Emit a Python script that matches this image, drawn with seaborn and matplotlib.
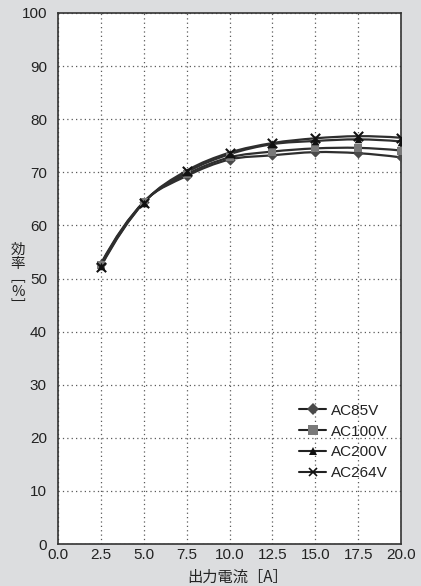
import numpy as np
import pandas as pd
import matplotlib
matplotlib.use("Agg")
import matplotlib.pyplot as plt
from matplotlib.path import Path
from matplotlib.patches import PathPatch
from matplotlib.lines import Line2D
import seaborn as sns

current = [2.5, 5.0, 7.5, 10.0, 12.5, 15.0, 17.5, 20.0]
ac85 = [52.8, 64.4, 69.3, 72.4, 73.2, 73.8, 73.6, 72.8]
ac100 = [52.6, 64.4, 69.6, 72.8, 73.9, 74.5, 74.6, 74.1]
ac200 = [52.4, 64.3, 70.0, 73.4, 75.3, 75.9, 76.2, 75.8]
ac264 = [52.2, 64.3, 70.3, 73.7, 75.5, 76.4, 76.8, 76.5]
series_names = ["AC85V", "AC100V", "AC200V", "AC264V"]
x_ticks = [0.0, 2.5, 5.0, 7.5, 10.0, 12.5, 15.0, 17.5, 20.0]
y_ticks = list(range(0, 101, 10))

markers = {"AC85V": "D", "AC100V": "s", "AC200V": "^", "AC264V": "x"}
mcolors = {"AC85V": "#4a4a4a", "AC100V": "#7a7a7a", "AC200V": "#111111", "AC264V": "#111111"}
msizes = {"AC85V": 28, "AC100V": 40, "AC200V": 30, "AC264V": 45}
line_color = "#2e2e2e"

df = pd.DataFrame({
    "current": current * 4,
    "eff": ac85 + ac100 + ac200 + ac264,
    "series": sum([[n] * len(current) for n in series_names], []),
})

sns.set_theme(style="white")
plt.rcParams["font.family"] = ["Liberation Sans", "Noto Sans CJK JP", "DejaVu Sans"]

fig = plt.figure(figsize=(4.21, 5.86), dpi=100)
fig.patch.set_facecolor("#dcdddf")
ax = fig.add_axes([58 / 421, 42 / 586, 343 / 421, 531 / 586])
ax.set_facecolor("white")


def smooth_path(xs, ys):
    # Bezier smoothing (Excel-like smoothed line); phantom end points by quadratic extrapolation
    pts = np.column_stack([xs, ys]).astype(float)
    n = len(pts)
    start = 3 * pts[0] - 3 * pts[1] + pts[2]
    end = 3 * pts[-1] - 3 * pts[-2] + pts[-3]
    ext = np.vstack([start, pts, end])
    verts = [pts[0]]
    codes = [Path.MOVETO]
    for i in range(1, n):
        p0, p1, p2, p3 = ext[i - 1], ext[i], ext[i + 1], ext[i + 2]
        c1 = p1 + (p2 - p0) / 6.0
        c2 = p2 - (p3 - p1) / 6.0
        verts += [c1, c2, p2]
        codes += [Path.CURVE4] * 3
    return Path(verts, codes)


for name in series_names:
    sub = df[df["series"] == name]
    ax.add_patch(PathPatch(smooth_path(sub["current"].values, sub["eff"].values),
                           facecolor="none", edgecolor=line_color, lw=1.6, zorder=3))

for name in series_names:
    sub = df[df["series"] == name]
    m = markers[name]
    kw = dict(marker=m, s=msizes[name], color=mcolors[name], zorder=4, ax=ax, legend=False)
    if m == "x":
        kw["linewidth"] = 1.5
    else:
        kw["edgecolor"] = mcolors[name]
        kw["linewidth"] = 0
    sns.scatterplot(data=sub, x="current", y="eff", **kw)

ax.set_xlim(0, 20)
ax.set_ylim(0, 100)
ax.set_xticks(x_ticks)
ax.set_xticklabels([f"{v:.1f}" for v in x_ticks], fontsize=11, color="#222222")
ax.set_yticks(y_ticks)
ax.set_yticklabels([str(v) for v in y_ticks], fontsize=11, color="#222222")
ax.tick_params(axis="x", length=0, pad=3)
ax.tick_params(axis="y", length=0, pad=8)
ax.grid(True, color="#5a5a5a", linestyle=(0, (1, 2.5)), linewidth=0.9)
for sp in ax.spines.values():
    sp.set_visible(True)
    sp.set_color("#333333")
    sp.set_linewidth(1.2)

ax.set_xlabel("")
ax.set_ylabel("")
fig.text(238 / 421, 1 - 577 / 586, "出力電流［A］", ha="center", va="center",
         fontsize=11, color="#222222", family=["Noto Sans CJK JP", "DejaVu Sans"])
fig.text(18 / 421, 1 - 278 / 586, "効\n率\n﹇\n%\n﹈", ha="center", va="center",
         fontsize=10.5, color="#222222", linespacing=1.0,
         family=["Noto Sans CJK JP", "DejaVu Sans"])

handles = []
for name in series_names:
    m = markers[name]
    handles.append(Line2D([0], [0], color="#222222", lw=1.5, marker=m,
                          markersize=6 if m != "s" else 6.5,
                          markerfacecolor=mcolors[name], markeredgecolor=mcolors[name],
                          markeredgewidth=1.2 if m == "x" else 0))
leg = ax.legend(handles, series_names, loc="lower right", bbox_to_anchor=(1.0, 0.094),
                frameon=False, fontsize=11, handlelength=1.75, handletextpad=0.3,
                labelspacing=0.45)
for t in leg.get_texts():
    t.set_color("#222222")

fig.savefig("out.png", dpi=100, facecolor=fig.get_facecolor())
